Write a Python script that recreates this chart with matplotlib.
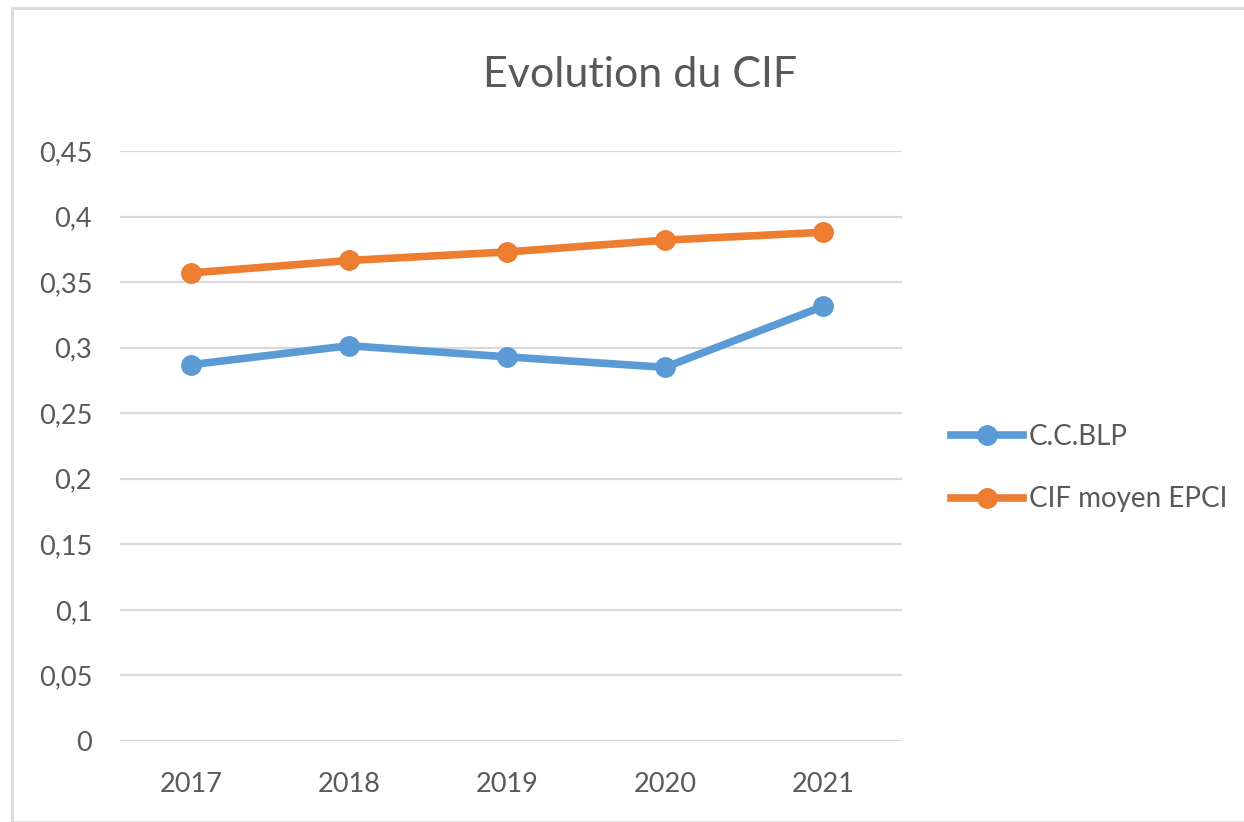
import matplotlib
matplotlib.use("Agg")
import matplotlib.pyplot as plt
from matplotlib.patches import Rectangle
from matplotlib.lines import Line2D

years = ["2017", "2018", "2019", "2020", "2021"]
ccblp = [0.287, 0.3015, 0.293, 0.285, 0.3315]
cif_moyen = [0.357, 0.3665, 0.373, 0.382, 0.388]
series_names = ["C.C.BLP", "CIF moyen EPCI"]
yticks = [0, 0.05, 0.1, 0.15, 0.2, 0.25, 0.3, 0.35, 0.4, 0.45]
ytick_labels = ["0", "0,05", "0,1", "0,15", "0,2", "0,25", "0,3", "0,35", "0,4", "0,45"]

plt.rcParams['font.family'] = ['Lato', 'DejaVu Sans']
txt = '#595959'
blue = '#5B9BD5'
orange = '#ED7D31'

fig = plt.figure(figsize=(12.44, 8.22), dpi=100)
fig.patches.append(Rectangle((12/1244, 0), 1.2, 1 - 8/822, transform=fig.transFigure,
                             fill=False, edgecolor='#D9D9D9', linewidth=2))
ax = fig.add_axes([120/1244, 1 - 741/822, 782/1244, 590/822])

x = list(range(len(years)))
ax.plot(x, ccblp, color=blue, lw=5.5, marker='o', ms=14, clip_on=False, solid_capstyle='round',
        label=series_names[0], zorder=3)
ax.plot(x, cif_moyen, color=orange, lw=5.5, marker='o', ms=14, clip_on=False, solid_capstyle='round',
        label=series_names[1], zorder=3)

ax.set_xlim(-0.45, 4.5)
ax.set_ylim(0, 0.45)
ax.set_yticks(yticks)
ax.set_yticklabels(ytick_labels)
ax.set_xticks(x)
ax.set_xticklabels(years)
ax.grid(axis='y', color='#D9D9D9', lw=1.6)
ax.set_axisbelow(True)
for s in ax.spines.values():
    s.set_visible(False)
ax.tick_params(length=0, labelsize=19.5, colors=txt)
ax.tick_params(axis='y', pad=20)
ax.tick_params(axis='x', pad=22)

fig.text(640/1244, 1 - 75/822, "Evolution du CIF", ha='center', va='center', fontsize=31, color=txt)

handles = [Line2D([], [], color=blue, lw=5.5, marker='o', ms=14),
           Line2D([], [], color=orange, lw=5.5, marker='o', ms=14)]
fig.legend(handles, series_names, loc='center left', bbox_to_anchor=(940/1244, 1 - 468/822),
           frameon=False, fontsize=20, labelcolor=txt, handlelength=2.6, handletextpad=0.2,
           labelspacing=1.32, borderaxespad=0)

fig.savefig("out.png", dpi=100)
